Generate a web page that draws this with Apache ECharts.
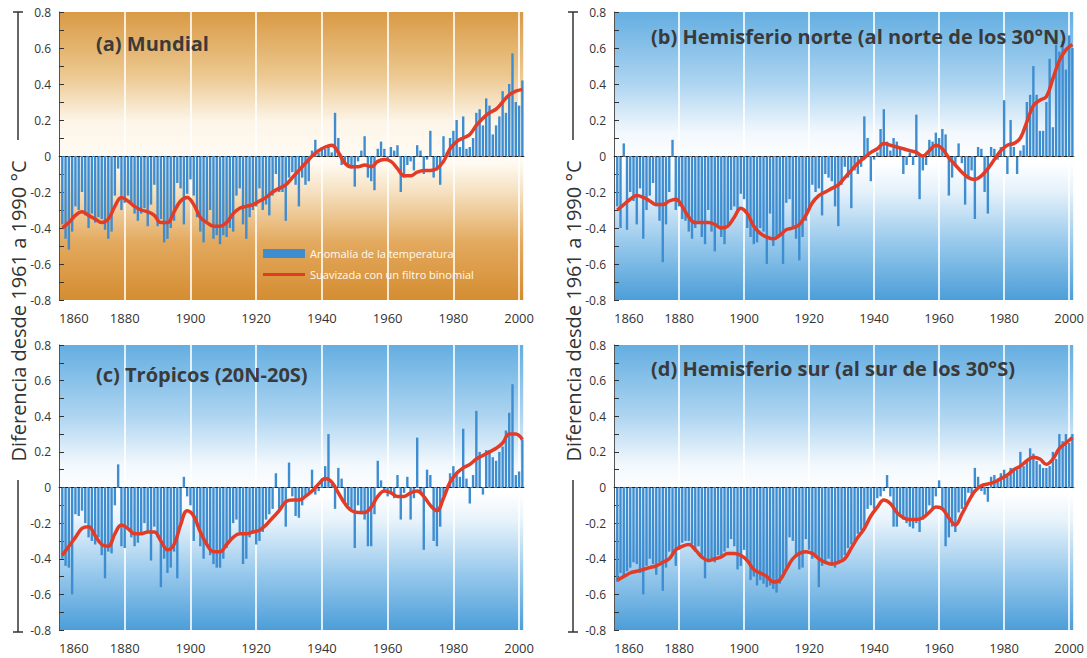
<!DOCTYPE html>
<html>
<head>
<meta charset="utf-8">
<script src="https://cdn.jsdelivr.net/npm/echarts@6/dist/echarts.min.js"></script>
<style>
  html, body { margin: 0; padding: 0; background: #fff; }
  #main { width: 1087px; height: 658px; }
</style>
</head>
<body>
<div id="main"></div>
<script>
// años 1861-2001 (barras) y años impares para la curva suavizada
const years = [];
for (let y = 1861; y <= 2001; y++) years.push(y);
const smoothYears = [];
for (let y = 1861; y <= 2001; y += 2) smoothYears.push(y);

const xTicks = [1860, 1880, 1900, 1920, 1940, 1960, 1980, 2000];

// (a) Mundial
const mundialBars = [
  -0.38, -0.46, -0.52, -0.42, -0.28, -0.30, -0.20, -0.33, -0.40, -0.32,
  -0.37, -0.34, -0.35, -0.41, -0.46, -0.42, -0.22, -0.07, -0.30, -0.26,
  -0.22, -0.26, -0.32, -0.36, -0.32, -0.29, -0.39, -0.27, -0.16, -0.39,
  -0.35, -0.48, -0.46, -0.40, -0.36, -0.15, -0.18, -0.38, -0.21, -0.13,
  -0.22, -0.34, -0.42, -0.48, -0.36, -0.30, -0.46, -0.44, -0.49, -0.44,
  -0.45, -0.40, -0.42, -0.22, -0.18, -0.38, -0.46, -0.34, -0.30, -0.28,
  -0.18, -0.30, -0.27, -0.33, -0.22, -0.10, -0.20, -0.20, -0.36, -0.12,
  -0.09, -0.16, -0.28, -0.12, -0.16, -0.14, 0.03, 0.09, 0.02, 0.05,
  0.04, 0.06, 0.02, 0.24, 0.10, -0.05, -0.04, -0.06, -0.07, -0.17,
  -0.03, 0.03, 0.11, -0.12, -0.14, -0.19, 0.04, 0.08, 0.04, -0.02,
  0.05, 0.03, 0.06, -0.20, -0.12, -0.05, -0.03, -0.08, 0.06, 0.03,
  -0.10, -0.02, 0.14, -0.12, -0.08, -0.16, 0.11, 0.02, 0.10, 0.14,
  0.20, 0.05, 0.22, 0.04, 0.05, 0.10, 0.24, 0.26, 0.17, 0.32,
  0.28, 0.12, 0.17, 0.22, 0.36, 0.24, 0.40, 0.57, 0.30, 0.28,
  0.42
];
const mundialSmooth = [
  -0.40, -0.37, -0.33, -0.31, -0.33, -0.35, -0.37, -0.35, -0.28, -0.23,
  -0.25, -0.28, -0.30, -0.31, -0.33, -0.37, -0.37, -0.31, -0.25, -0.23,
  -0.27, -0.34, -0.37, -0.39, -0.39, -0.37, -0.32, -0.29, -0.28, -0.27,
  -0.25, -0.23, -0.20, -0.18, -0.16, -0.12, -0.08, -0.04, 0.00, 0.03,
  0.05, 0.06, 0.02, -0.04, -0.06, -0.06, -0.05, -0.06, -0.03, -0.02,
  -0.03, -0.07, -0.11, -0.11, -0.09, -0.08, -0.08, -0.07, -0.03, 0.04,
  0.08, 0.10, 0.12, 0.17, 0.21, 0.24, 0.26, 0.30, 0.34, 0.36,
  0.37
];

// (b) Hemisferio norte
const norteBars = [
  -0.28, -0.40, 0.07, -0.41, -0.20, -0.25, -0.38, -0.18, -0.46, -0.30,
  -0.22, -0.15, -0.28, -0.36, -0.59, -0.38, -0.20, 0.09, -0.30, -0.28,
  -0.35, -0.36, -0.42, -0.46, -0.40, -0.36, -0.45, -0.49, -0.30, -0.42,
  -0.53, -0.40, -0.45, -0.49, -0.38, -0.30, -0.28, -0.30, -0.21, -0.24,
  -0.40, -0.45, -0.49, -0.48, -0.40, -0.42, -0.60, -0.32, -0.50, -0.46,
  -0.44, -0.60, -0.26, -0.24, -0.40, -0.46, -0.58, -0.45, -0.36, -0.30,
  -0.16, -0.20, -0.18, -0.33, -0.10, -0.12, -0.14, -0.28, -0.39, -0.16,
  -0.06, -0.12, -0.29, -0.08, -0.10, -0.06, 0.22, 0.10, -0.14, -0.02,
  0.02, 0.15, 0.26, 0.08, 0.03, 0.10, 0.08, 0.04, -0.10, -0.05,
  0.02, -0.05, 0.23, -0.24, -0.08, -0.05, 0.09, 0.08, 0.13, 0.10,
  0.15, 0.12, -0.22, -0.12, -0.05, 0.07, -0.04, -0.27, -0.12, -0.08,
  -0.35, 0.05, 0.04, -0.20, -0.32, 0.05, 0.04, -0.02, 0.05, 0.31,
  -0.10, 0.20, 0.05, -0.10, 0.03, 0.06, 0.30, 0.34, 0.50, 0.34,
  0.14, 0.14, 0.30, 0.54, 0.16, 0.62, 0.58, 0.64, 0.48, 0.67,
  0.60
];
const norteSmooth = [
  -0.30, -0.27, -0.24, -0.22, -0.23, -0.25, -0.27, -0.27, -0.25, -0.24,
  -0.28, -0.34, -0.37, -0.37, -0.37, -0.38, -0.40, -0.39, -0.34, -0.29,
  -0.32, -0.39, -0.43, -0.45, -0.46, -0.44, -0.41, -0.40, -0.38, -0.33,
  -0.26, -0.22, -0.20, -0.18, -0.16, -0.12, -0.08, -0.04, -0.01, 0.02,
  0.04, 0.07, 0.06, 0.05, 0.04, 0.03, 0.02, 0.00, 0.03, 0.06,
  0.04, -0.01, -0.05, -0.09, -0.12, -0.13, -0.11, -0.07, -0.02, 0.03,
  0.06, 0.07, 0.10, 0.19, 0.28, 0.31, 0.33, 0.43, 0.53, 0.59,
  0.62
];

// (c) Trópicos
const tropicosBars = [
  -0.40, -0.44, -0.45, -0.60, -0.15, -0.16, -0.13, -0.20, -0.28, -0.30,
  -0.32, -0.28, -0.38, -0.51, -0.36, -0.37, -0.10, 0.13, -0.33, -0.34,
  -0.22, -0.28, -0.33, -0.31, -0.26, -0.20, -0.25, -0.41, -0.22, -0.28,
  -0.56, -0.40, -0.48, -0.45, -0.36, -0.51, -0.22, 0.06, -0.05, -0.10,
  -0.30, -0.22, -0.33, -0.40, -0.32, -0.38, -0.43, -0.45, -0.45, -0.40,
  -0.34, -0.30, -0.20, -0.18, -0.25, -0.43, -0.40, -0.28, -0.26, -0.32,
  -0.30, -0.25, -0.18, -0.15, -0.12, 0.08, -0.12, -0.10, -0.22, 0.14,
  -0.05, -0.16, -0.17, -0.10, -0.05, -0.03, 0.10, -0.04, -0.02, 0.05,
  0.12, 0.30, 0.02, -0.12, 0.11, 0.05, -0.08, -0.10, -0.12, -0.34,
  -0.10, -0.15, -0.18, -0.33, -0.33, -0.15, 0.15, 0.04, -0.02, -0.05,
  -0.03, -0.06, 0.07, -0.18, -0.03, 0.06, -0.18, -0.06, 0.28, -0.03,
  -0.35, 0.10, 0.07, -0.30, -0.33, -0.22, -0.05, 0.00, 0.08, 0.12,
  0.07, 0.06, 0.33, 0.05, -0.09, 0.07, 0.43, 0.20, -0.04, 0.21,
  0.21, 0.17, 0.15, 0.20, 0.23, 0.32, 0.42, 0.58, 0.07, 0.09,
  0.27
];
const tropicosSmooth = [
  -0.38, -0.33, -0.28, -0.23, -0.22, -0.27, -0.32, -0.33, -0.26, -0.21,
  -0.23, -0.26, -0.26, -0.25, -0.25, -0.30, -0.35, -0.32, -0.21, -0.13,
  -0.16, -0.25, -0.32, -0.36, -0.36, -0.32, -0.28, -0.26, -0.26, -0.25,
  -0.24, -0.21, -0.17, -0.13, -0.08, -0.07, -0.07, -0.05, -0.02, 0.02,
  0.05, 0.03, -0.03, -0.09, -0.13, -0.14, -0.14, -0.11, -0.05, -0.02,
  -0.03, -0.05, -0.05, -0.03, -0.02, -0.05, -0.10, -0.13, -0.06, 0.03,
  0.08, 0.11, 0.13, 0.16, 0.18, 0.20, 0.22, 0.25, 0.30, 0.30,
  0.27
];

// (d) Hemisferio sur
const surBars = [
  -0.53, -0.48, -0.50, -0.47, -0.45, -0.42, -0.43, -0.48, -0.60, -0.44,
  -0.40, -0.43, -0.49, -0.42, -0.58, -0.45, -0.36, -0.37, -0.44, -0.35,
  -0.31, -0.30, -0.30, -0.32, -0.36, -0.33, -0.40, -0.51, -0.42, -0.40,
  -0.42, -0.38, -0.39, -0.36, -0.34, -0.29, -0.33, -0.46, -0.44, -0.35,
  -0.40, -0.52, -0.50, -0.55, -0.52, -0.54, -0.56, -0.55, -0.57, -0.59,
  -0.54, -0.48, -0.45, -0.28, -0.30, -0.38, -0.46, -0.45, -0.29, -0.35,
  -0.40, -0.38, -0.56, -0.44, -0.42, -0.40, -0.44, -0.45, -0.43, -0.40,
  -0.38, -0.34, -0.32, -0.30, -0.26, -0.24, -0.22, -0.12, -0.10, -0.12,
  -0.06, -0.05, -0.02, 0.07, -0.05, -0.22, -0.22, -0.16, -0.18, -0.20,
  -0.22, -0.23, -0.20, -0.25, -0.18, -0.15, -0.10, -0.12, -0.05, 0.04,
  -0.12, -0.33, -0.28, -0.22, -0.25, -0.14, -0.12, -0.10, -0.03, -0.04,
  0.11, 0.06, -0.02, -0.04, -0.08, 0.06, 0.07, 0.05, 0.08, 0.10,
  0.06, 0.11, 0.11, 0.10, 0.20, 0.12, 0.15, 0.22, 0.19, 0.15,
  0.13, 0.11, 0.11, 0.12, 0.20, 0.16, 0.30, 0.26, 0.30, 0.25,
  0.30
];
const surSmooth = [
  -0.52, -0.50, -0.48, -0.47, -0.46, -0.45, -0.44, -0.42, -0.40, -0.35,
  -0.33, -0.32, -0.35, -0.39, -0.41, -0.40, -0.39, -0.37, -0.37, -0.38,
  -0.41, -0.46, -0.48, -0.50, -0.53, -0.52, -0.46, -0.40, -0.37, -0.36,
  -0.37, -0.40, -0.42, -0.43, -0.42, -0.40, -0.34, -0.28, -0.23, -0.16,
  -0.11, -0.07, -0.09, -0.14, -0.17, -0.18, -0.18, -0.17, -0.14, -0.11,
  -0.12, -0.17, -0.21, -0.15, -0.08, -0.02, 0.01, 0.02, 0.03, 0.05,
  0.07, 0.10, 0.12, 0.15, 0.17, 0.16, 0.13, 0.16, 0.22, 0.25,
  0.28
];

const panels = [
  { title: '(a) Mundial', bars: mundialBars, smooth: mundialSmooth },
  { title: '(b) Hemisferio norte (al norte de los 30°N)', bars: norteBars, smooth: norteSmooth },
  { title: '(c) Trópicos (20N-20S)', bars: tropicosBars, smooth: tropicosSmooth },
  { title: '(d) Hemisferio sur (al sur de los 30°S)', bars: surBars, smooth: surSmooth }
];

const gridPos = [
  { left: 59, top: 12, width: 465, height: 288 },
  { left: 614, top: 12, width: 470, height: 288 },
  { left: 59, top: 345, width: 465, height: 285 },
  { left: 614, top: 345, width: 470, height: 285 }
];
const titlePos = [
  { left: 96, top: 33 },
  { left: 651, top: 26 },
  { left: 96, top: 364 },
  { left: 651, top: 358 }
];

const orangeBg = {
  type: 'linear', x: 0, y: 0, x2: 0, y2: 1,
  colorStops: [
    { offset: 0, color: '#d99a45' },
    { offset: 0.22, color: '#ecc890' },
    { offset: 0.38, color: '#fdf5e8' },
    { offset: 0.52, color: '#fffbf4' },
    { offset: 0.62, color: '#f6e2c2' },
    { offset: 0.8, color: '#e3a95e' },
    { offset: 1, color: '#d48d31' }
  ]
};
const blueBg = {
  type: 'linear', x: 0, y: 0, x2: 0, y2: 1,
  colorStops: [
    { offset: 0, color: '#64aee1' },
    { offset: 0.25, color: '#aed5f1' },
    { offset: 0.42, color: '#f2f8fd' },
    { offset: 0.52, color: '#ffffff' },
    { offset: 0.62, color: '#e6f2fb' },
    { offset: 0.8, color: '#98c9ec' },
    { offset: 1, color: '#4c9ed9' }
  ]
};

const yFmt = function (v) {
  const k = Math.round(v * 10);
  if (k % 2 !== 0) return '';
  return k === 0 ? '0' : (k / 10).toFixed(1);
};

const yName = 'Diferencia desde 1961 a 1990 °C';

const chart = echarts.init(document.getElementById('main'), null, { renderer: 'svg' });

const option = {
  animation: false,
  backgroundColor: '#ffffff',
  textStyle: { fontFamily: 'Open Sans' },
  title: panels.map((p, i) => ({
    text: p.title,
    left: titlePos[i].left,
    top: titlePos[i].top,
    padding: 0,
    textStyle: { fontSize: 20, fontWeight: 'bold', color: '#3a3a3a', fontFamily: 'Open Sans' }
  })),
  legend: {
    data: [
      { name: 'Anomalía de la temperatura', icon: 'rect' },
      { name: 'Suavizada con un filtro binomial', icon: 'path://M0,0H42V3H0Z' }
    ],
    orient: 'vertical',
    left: 263,
    top: 248,
    padding: 0,
    itemWidth: 42,
    itemHeight: 9,
    itemGap: 10,
    selectedMode: false,
    textStyle: { color: '#fffaf0', fontSize: 11, fontFamily: 'Open Sans' }
  },
  grid: gridPos.map((g, i) => ({
    left: g.left, top: g.top, width: g.width, height: g.height,
    show: true,
    borderWidth: 0,
    backgroundColor: i === 0 ? orangeBg : blueBg
  })),
  xAxis: gridPos.map((g, i) => ({
    gridIndex: i,
    type: 'value',
    min: 1860,
    max: 2001.5,
    interval: 20,
    axisLine: { show: true, lineStyle: { color: '#666', width: 1 } },
    axisTick: { show: false },
    axisLabel: {
      color: '#333', fontSize: 13, margin: 11,
      alignMinLabel: 'left',
      formatter: v => (xTicks.indexOf(v) >= 0 ? String(v) : '')
    },
    splitLine: { show: true, lineStyle: { color: '#ffffff', width: 2, opacity: 0.8 } }
  })),
  yAxis: gridPos.map((g, i) => ({
    gridIndex: i,
    type: 'value',
    min: -0.8,
    max: 0.8,
    interval: 0.1,
    axisLine: { show: true, lineStyle: { color: '#555', width: 1 } },
    axisTick: { show: true, inside: true, length: 5, lineStyle: { color: '#333' } },
    axisLabel: { color: '#333', fontSize: 12, margin: 8, formatter: yFmt },
    splitLine: { show: false }
  })),
  series: [],
  graphic: [
    { type: 'text', x: 18, y: 311, rotation: Math.PI / 2,
      style: { text: yName, fontSize: 20, fill: '#333', fontFamily: 'Open Sans', align: 'center', verticalAlign: 'middle' } },
    { type: 'text', x: 573, y: 311, rotation: Math.PI / 2,
      style: { text: yName, fontSize: 20, fill: '#333', fontFamily: 'Open Sans', align: 'center', verticalAlign: 'middle' } },
    { type: 'line', shape: { x1: 18, y1: 12, x2: 18, y2: 140 }, style: { stroke: '#333', lineWidth: 1.5 } },
    { type: 'line', shape: { x1: 13, y1: 12, x2: 23, y2: 12 }, style: { stroke: '#333', lineWidth: 1.5 } },
    { type: 'line', shape: { x1: 18, y1: 480, x2: 18, y2: 632 }, style: { stroke: '#333', lineWidth: 1.5 } },
    { type: 'line', shape: { x1: 13, y1: 632, x2: 23, y2: 632 }, style: { stroke: '#333', lineWidth: 1.5 } },
    { type: 'line', shape: { x1: 573, y1: 12, x2: 573, y2: 140 }, style: { stroke: '#333', lineWidth: 1.5 } },
    { type: 'line', shape: { x1: 568, y1: 12, x2: 578, y2: 12 }, style: { stroke: '#333', lineWidth: 1.5 } },
    { type: 'line', shape: { x1: 573, y1: 480, x2: 573, y2: 632 }, style: { stroke: '#333', lineWidth: 1.5 } },
    { type: 'line', shape: { x1: 568, y1: 632, x2: 578, y2: 632 }, style: { stroke: '#333', lineWidth: 1.5 } }
  ]
};

panels.forEach((p, i) => {
  option.series.push({
    name: 'Anomalía de la temperatura',
    type: 'bar',
    xAxisIndex: i,
    yAxisIndex: i,
    barWidth: 2.4,
    itemStyle: { color: '#3e8dd0' },
    data: years.map((y, k) => [y, p.bars[k]]),
    markLine: {
      silent: true,
      symbol: 'none',
      label: { show: false },
      lineStyle: { color: '#222', type: [3, 3], width: 1 },
      data: [{ yAxis: 0 }]
    }
  });
  option.series.push({
    name: 'Suavizada con un filtro binomial',
    type: 'line',
    xAxisIndex: i,
    yAxisIndex: i,
    smooth: 0.4,
    showSymbol: false,
    symbol: 'none',
    itemStyle: { color: '#e23b26' },
    lineStyle: { color: '#e23b26', width: 3.5 },
    z: 5,
    data: smoothYears.map((y, k) => [y, p.smooth[k]])
  });
});

chart.setOption(option);
</script>
</body>
</html>
